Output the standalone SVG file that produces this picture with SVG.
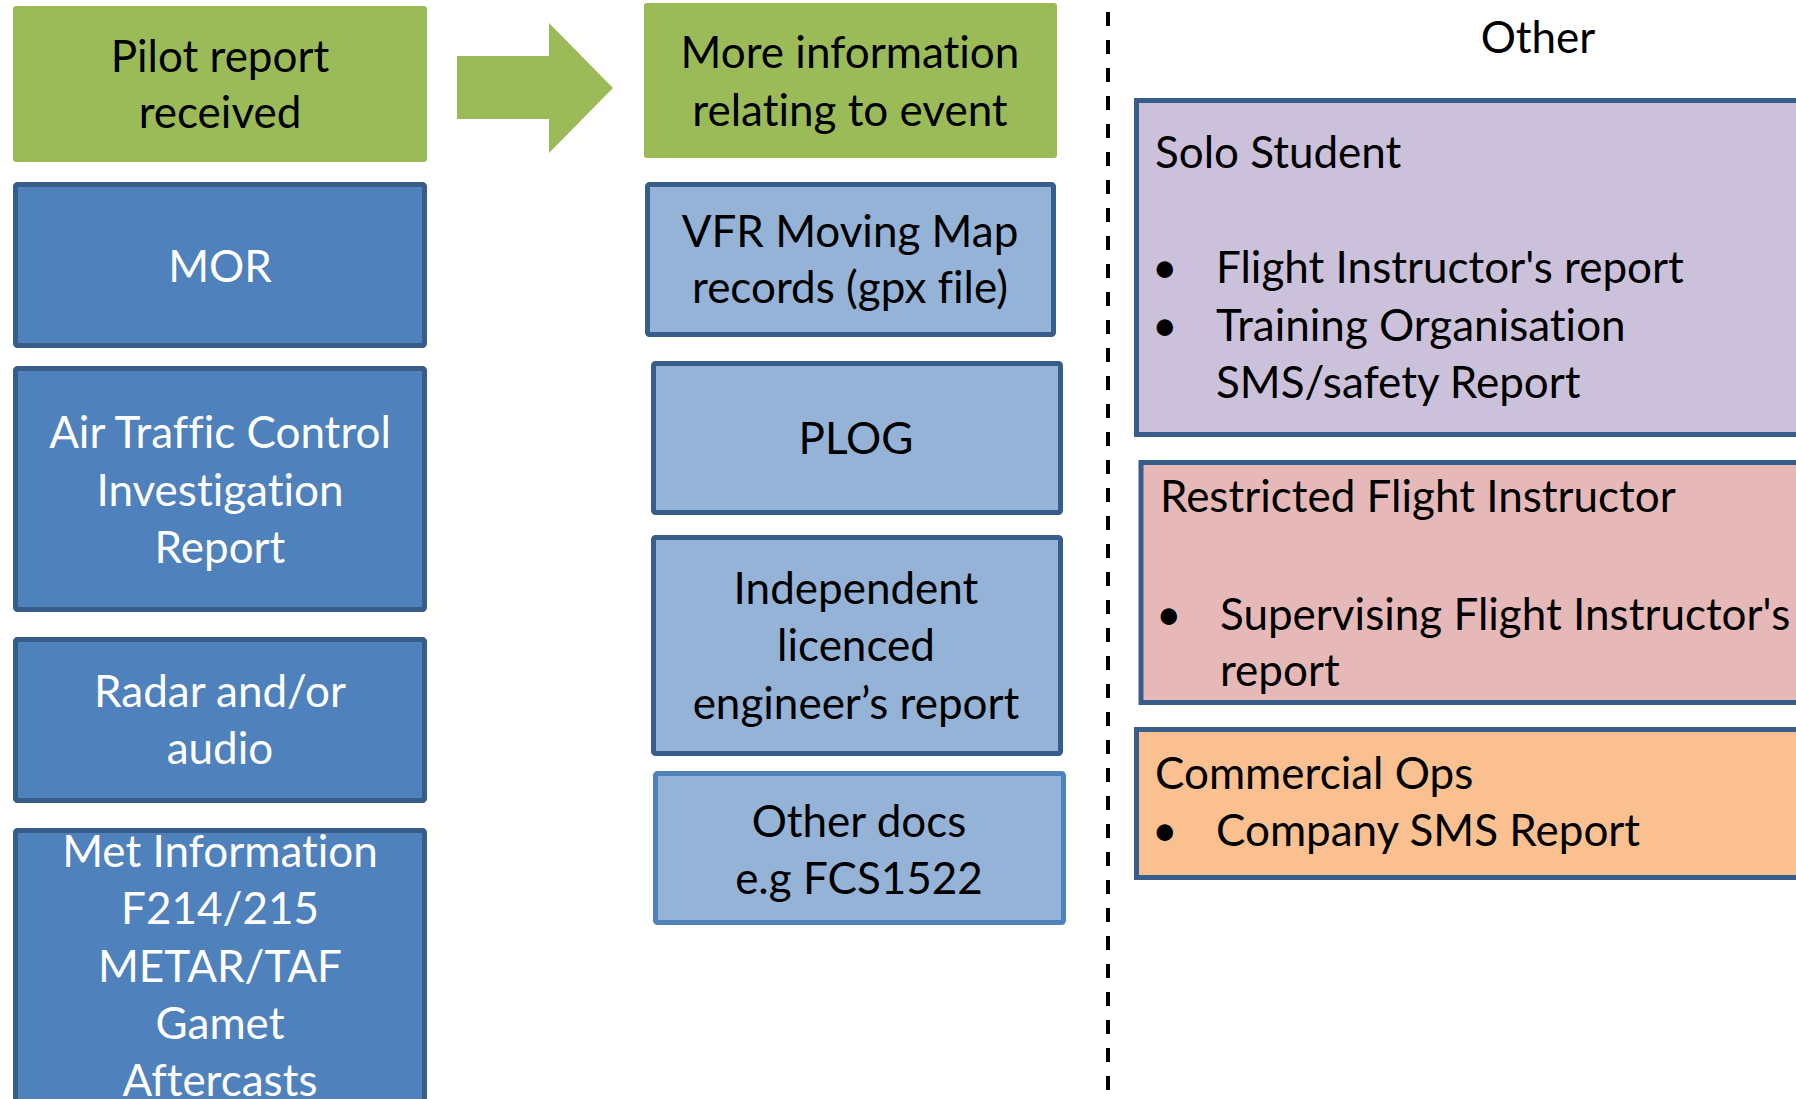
<svg xmlns="http://www.w3.org/2000/svg" width="1796" height="1099" viewBox="0 0 1796 1099">
  <style>
    text { font-family: Lato, "Open Sans", "Liberation Sans", sans-serif; font-size: 44px; font-variant-ligatures: none; }
    .c { text-anchor: middle; }
    .w { fill: #FFFFFF; }
    .k { fill: #000000; }
    .green { fill: #9BBB59; }
    .dark { fill: #4F81BD; stroke: #385D8A; stroke-width: 5; }
    .light { fill: #95B3D7; stroke: #385D8A; stroke-width: 5; }
    .light2 { fill: #95B3D7; stroke: #4F81BD; stroke-width: 5; }
    .lav { fill: #CCC1DA; stroke: #385D8A; stroke-width: 5; }
    .pink { fill: #E6B9B8; stroke: #385D8A; stroke-width: 5; }
    .orange { fill: #FAC090; stroke: #385D8A; stroke-width: 5; }
    .sep { stroke: #000000; stroke-width: 4; stroke-dasharray: 14 14; fill: none; }
  </style>

  <rect width="1796" height="1099" fill="#FFFFFF"/>

  <!-- left column: initial report and its sources -->
  <g id="pilot-report">
    <rect class="green" x="13" y="6" width="414" height="156" rx="3"/>
    <text class="c k" x="220" y="72">Pilot report</text>
    <text class="c k" x="220" y="128">received</text>
  </g>
  <g id="mor">
    <rect class="dark" x="15.5" y="184.5" width="409" height="161" rx="2"/>
    <text class="c w" x="220" y="282">MOR</text>
  </g>
  <g id="atc-report">
    <rect class="dark" x="15.5" y="368.5" width="409" height="241" rx="2"/>
    <text class="c w" x="220" y="448">Air Traffic Control</text>
    <text class="c w" x="220" y="505.5">Investigation</text>
    <text class="c w" x="220" y="563">Report</text>
  </g>
  <g id="radar-audio">
    <rect class="dark" x="15.5" y="639.5" width="409" height="161" rx="2"/>
    <text class="c w" x="220" y="707">Radar and/or</text>
    <text class="c w" x="220" y="764">audio</text>
  </g>
  <g id="met-info">
    <rect class="dark" x="15.5" y="830.5" width="409" height="320" rx="2"/>
    <text class="c w" x="220" y="867">Met Information</text>
    <text class="c w" x="220" y="924.3">F214/215</text>
    <text class="c w" x="220" y="981.6">METAR/TAF</text>
    <text class="c w" x="220" y="1038.9">Gamet</text>
    <text class="c w" x="220" y="1096.2">Aftercasts</text>
  </g>

  <!-- block arrow leading to the further information column -->
  <g id="connectors">
    <polygon class="green" points="457,56 549,56 549,23 613,88 549,153 549,119 457,119"/>
  </g>

  <!-- middle column: further information -->
  <g id="more-info">
    <rect class="green" x="644" y="3" width="413" height="155" rx="3"/>
    <text class="c k" x="850" y="68">More information</text>
    <text class="c k" x="850" y="126">relating to event</text>
  </g>
  <g id="vfr-map">
    <rect class="light" x="647.5" y="184.5" width="406" height="150" rx="2"/>
    <text class="c k" x="850" y="247">VFR Moving Map</text>
    <text class="c k" x="850" y="303">records (gpx file)</text>
  </g>
  <g id="plog">
    <rect class="light" x="653.5" y="363.5" width="407" height="149" rx="2"/>
    <text class="c k" x="856" y="454">PLOG</text>
  </g>
  <g id="engineer-report">
    <rect class="light" x="653.5" y="537.5" width="407" height="216" rx="2"/>
    <text class="c k" x="856" y="604">Independent</text>
    <text class="c k" x="856" y="661">licenced</text>
    <text class="c k" x="856" y="719">engineer’s report</text>
  </g>
  <g id="other-docs">
    <rect class="light2" x="655.5" y="773.5" width="408" height="149" rx="2"/>
    <text class="c k" x="859" y="837">Other docs</text>
    <text class="c k" x="859" y="894">e.g FCS1522</text>
  </g>

  <!-- dashed divider -->
  <line class="sep" x1="1108" y1="12" x2="1108" y2="1090"/>

  <!-- right column: other sources by operation type -->
  <g id="other-title">
    <text class="c k" x="1538" y="53">Other</text>
  </g>
  <g id="solo-student">
    <rect class="lav" x="1136.5" y="100.5" width="700" height="334"/>
    <text class="k" x="1155" y="168">Solo Student</text>
    <text class="k" x="1152" y="283">•</text>
    <text class="k" x="1216" y="283">Flight Instructor's report</text>
    <text class="k" x="1152" y="341">•</text>
    <text class="k" x="1216" y="341">Training Organisation</text>
    <text class="k" x="1216" y="398">SMS/safety Report</text>
  </g>
  <g id="restricted-fi">
    <rect class="pink" x="1141" y="462.5" width="700" height="240"/>
    <text class="k" x="1160" y="512">Restricted Flight Instructor</text>
    <text class="k" x="1156" y="630">•</text>
    <text class="k" x="1220" y="630">Supervising Flight Instructor's</text>
    <text class="k" x="1220" y="686">report</text>
  </g>
  <g id="commercial-ops">
    <rect class="orange" x="1136.5" y="729.5" width="700" height="148"/>
    <text class="k" x="1155" y="789">Commercial Ops</text>
    <text class="k" x="1152" y="846">•</text>
    <text class="k" x="1216" y="846">Company SMS Report</text>
  </g>
</svg>
